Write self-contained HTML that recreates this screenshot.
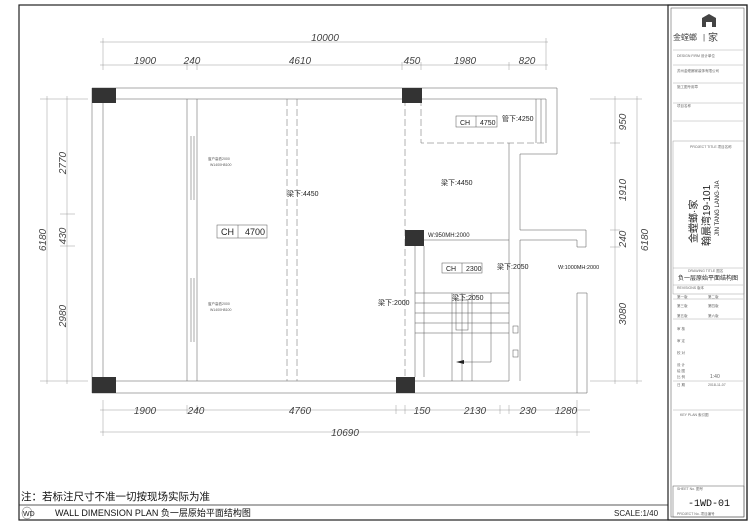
<!DOCTYPE html>
<html><head><meta charset="utf-8"><style>
html,body{margin:0;padding:0;background:#fff;}
svg{display:block;font-family:"Liberation Sans","Noto Sans CJK SC",sans-serif;}
.d{font-size:10px;font-style:italic;fill:#444;text-anchor:middle;}
.s{font-size:7px;fill:#222;}
.t{font-size:3.5px;fill:#555;}
</style></head><body>
<svg width="750" height="525" viewBox="0 0 750 525">
<rect x="19" y="5" width="728" height="515" fill="none" stroke="#222" stroke-width="1.2"/>
<line x1="19" y1="505" x2="668" y2="505" stroke="#222" stroke-width="0.8"/>
<rect x="668" y="5" width="79" height="515" fill="none" stroke="#222" stroke-width="1.2"/>
<rect x="671" y="8" width="73" height="509" fill="none" stroke="#444" stroke-width="0.5"/>
<g stroke="#555" stroke-width="0.5" fill="none">
<polyline points="92,88 557,88 557,154 520,154 520,230 586,230 586,247 577,247 577,240 520,240"/>
<polyline points="103,99 546,99 546,143"/>
<line x1="509" y1="143" x2="509" y2="240"/>
<line x1="92" y1="88" x2="92" y2="393"/>
<line x1="103" y1="99" x2="103" y2="381"/>
<line x1="92" y1="393" x2="587" y2="393"/>
<line x1="103" y1="381" x2="396" y2="381"/>
<line x1="415" y1="381" x2="509" y2="381"/>
<line x1="187" y1="99" x2="187" y2="381"/>
<line x1="197" y1="99" x2="197" y2="381"/>
<line x1="577" y1="293" x2="587" y2="293"/>
<line x1="577" y1="293" x2="577" y2="393"/>
<line x1="587" y1="293" x2="587" y2="393"/>
<line x1="509" y1="240" x2="509" y2="381"/>
<line x1="520" y1="240" x2="520" y2="381"/>
<line x1="415" y1="246" x2="415" y2="377"/>
<line x1="424" y1="246" x2="424" y2="377"/>
<line x1="424" y1="240" x2="509" y2="240"/>
<line x1="191" y1="136" x2="191" y2="200"/><line x1="194" y1="136" x2="194" y2="200"/>
<line x1="191" y1="278" x2="191" y2="342"/><line x1="194" y1="278" x2="194" y2="342"/>
<line x1="415" y1="293" x2="509" y2="293"/>
<line x1="415" y1="303" x2="509" y2="303"/><line x1="415" y1="313" x2="509" y2="313"/>
<line x1="415" y1="323" x2="509" y2="323"/><line x1="415" y1="333" x2="509" y2="333"/>
<line x1="452" y1="293" x2="452" y2="381"/><line x1="472" y1="293" x2="472" y2="381"/>
<line x1="462" y1="293" x2="462" y2="381"/>
<rect x="456" y="300" width="12" height="30"/>
<line x1="491" y1="293" x2="491" y2="362"/><line x1="462" y1="362" x2="491" y2="362"/>
<rect x="513" y="326" width="5" height="7"/><rect x="513" y="350" width="5" height="7"/>
<line x1="536" y1="99" x2="536" y2="143"/><line x1="541" y1="99" x2="541" y2="143"/>
</g>
<g stroke="#666" stroke-width="0.5" fill="none" stroke-dasharray="7,3">
<line x1="287" y1="99" x2="287" y2="381"/><line x1="297" y1="99" x2="297" y2="381"/>
<line x1="405" y1="99" x2="405" y2="381"/>
<polyline points="421,99 421,143 546,143"/>
</g>
<path d="M456,362 l8,-2 v4z" fill="#222"/>
<g fill="#333">
<rect x="92" y="88" width="24" height="15"/><rect x="402" y="88" width="20" height="15"/>
<rect x="405" y="230" width="19" height="16"/>
<rect x="92" y="377" width="24" height="16"/><rect x="396" y="377" width="19" height="16"/>
</g>
<g stroke="#555" stroke-width="0.5" fill="#fff">
<rect x="217" y="225" width="50" height="13"/><line x1="238" y1="225" x2="238" y2="238"/>
<rect x="456" y="116" width="41" height="11"/><line x1="476" y1="116" x2="476" y2="127"/>
<rect x="442" y="263" width="40" height="10"/><line x1="462" y1="263" x2="462" y2="273"/>
</g>
<text x="221" y="235" font-size="9" fill="#222">CH</text><text x="245" y="235" font-size="9" fill="#222">4700</text>
<text x="460" y="125" class="s">CH</text><text x="480" y="125" class="s">4750</text>
<text x="446" y="271" class="s" fill="#555">CH</text><text x="466" y="271" class="s" fill="#777">2300</text>
<text x="287" y="196" class="s">梁下:4450</text>
<text x="441" y="185" class="s">梁下:4450</text>
<text x="502" y="121" class="s">管下:4250</text>
<text x="428" y="237" font-size="6" fill="#222">W:950MH:2000</text>
<text x="497" y="269" class="s">梁下:2050</text>
<text x="558" y="269" font-size="5.5" fill="#222">W:1000MH:2000</text>
<text x="378" y="305" class="s">梁下:2000</text>
<text x="452" y="300" class="s">梁下:2050</text>
<text x="208" y="160" class="t">窗户高低2000</text><text x="210" y="166" class="t">W1400H8100</text>
<text x="208" y="305" class="t">窗户高低2000</text><text x="210" y="311" class="t">W1400H8100</text>
<g stroke="#999" stroke-width="0.5">
<line x1="100" y1="42" x2="548" y2="42"/><line x1="100" y1="65" x2="548" y2="65"/>
<line x1="103" y1="38" x2="103" y2="70"/><line x1="546" y1="38" x2="546" y2="70"/>
<line x1="187" y1="62" x2="187" y2="70"/><line x1="197" y1="62" x2="197" y2="70"/>
<line x1="402" y1="62" x2="402" y2="70"/><line x1="421" y1="62" x2="421" y2="70"/><line x1="509" y1="62" x2="509" y2="70"/>
<line x1="100" y1="410" x2="590" y2="410"/><line x1="100" y1="432" x2="590" y2="432"/>
<line x1="103" y1="400" x2="103" y2="436"/><line x1="577" y1="400" x2="577" y2="436"/>
<line x1="187" y1="405" x2="187" y2="414"/><line x1="197" y1="405" x2="197" y2="414"/>
<line x1="396" y1="405" x2="396" y2="414"/><line x1="405" y1="405" x2="405" y2="414"/>
<line x1="500" y1="405" x2="500" y2="414"/><line x1="509" y1="405" x2="509" y2="414"/>
<line x1="47" y1="96" x2="47" y2="384"/><line x1="67" y1="96" x2="67" y2="384"/>
<line x1="40" y1="99" x2="88" y2="99"/><line x1="40" y1="381" x2="88" y2="381"/>
<line x1="60" y1="214" x2="75" y2="214"/><line x1="60" y1="246" x2="75" y2="246"/>
<line x1="615" y1="96" x2="615" y2="384"/><line x1="637" y1="96" x2="637" y2="384"/>
<line x1="590" y1="99" x2="642" y2="99"/><line x1="590" y1="381" x2="642" y2="381"/>
<line x1="610" y1="143" x2="620" y2="143"/><line x1="610" y1="230" x2="620" y2="230"/><line x1="610" y1="247" x2="620" y2="247"/>
</g>
<text x="325" y="41" class="d">10000</text>
<text x="145" y="64" class="d">1900</text><text x="192" y="64" class="d">240</text>
<text x="300" y="64" class="d">4610</text><text x="412" y="64" class="d">450</text>
<text x="465" y="64" class="d">1980</text><text x="527" y="64" class="d">820</text>
<text x="145" y="414" class="d">1900</text><text x="196" y="414" class="d">240</text>
<text x="300" y="414" class="d">4760</text><text x="422" y="414" class="d">150</text>
<text x="475" y="414" class="d">2130</text><text x="528" y="414" class="d">230</text><text x="566" y="414" class="d">1280</text>
<text x="345" y="436" class="d">10690</text>
<g class="d">
<text transform="translate(46,240) rotate(-90)">6180</text>
<text transform="translate(66,163) rotate(-90)">2770</text>
<text transform="translate(66,236) rotate(-90)">430</text>
<text transform="translate(66,316) rotate(-90)">2980</text>
<text transform="translate(626,122) rotate(-90)">950</text>
<text transform="translate(626,190) rotate(-90)">1910</text>
<text transform="translate(626,239) rotate(-90)">240</text>
<text transform="translate(626,314) rotate(-90)">3080</text>
<text transform="translate(648,240) rotate(-90)">6180</text>
</g>
<text x="21" y="500" font-size="10.5" fill="#111">注：若标注尺寸不准一切按现场实际为准</text>
<ellipse cx="27" cy="513" rx="5" ry="6" fill="none" stroke="#555" stroke-width="0.5"/>
<text x="23" y="516" font-size="7" fill="#222">WD</text>
<text x="55" y="516" font-size="9" fill="#111">WALL DIMENSION PLAN 负一层原始平面结构图</text>
<text x="614" y="516" font-size="8" fill="#222">SCALE:1/40</text>
<path d="M702,18 l7,-4 7,4 v9 h-4 v-5 h-6 v5 h-4z" fill="#444"/>
<text x="673" y="40" font-size="8" fill="#444">金螳螂</text><text x="703" y="40" font-size="8" fill="#444">|</text><text x="708" y="41" font-size="10" fill="#444">家</text>
<g stroke="#999" stroke-width="0.4">
<line x1="673" y1="50" x2="743" y2="50"/><line x1="673" y1="65" x2="743" y2="65"/><line x1="673" y1="83" x2="743" y2="83"/>
<line x1="673" y1="103" x2="743" y2="103"/><line x1="673" y1="121" x2="743" y2="121"/>
<line x1="673" y1="268" x2="743" y2="268"/><line x1="673" y1="285" x2="743" y2="285"/>
<line x1="673" y1="299" x2="743" y2="299"/><line x1="673" y1="319" x2="743" y2="319"/>
<line x1="673" y1="381" x2="743" y2="381"/><line x1="673" y1="410" x2="743" y2="410"/>
</g>
<rect x="673" y="141" width="71" height="153" fill="none" stroke="#888" stroke-width="0.4"/>
<text x="677" y="57" font-size="3.5" fill="#666">DESIGN FIRM 设计单位</text>
<text x="677" y="72" font-size="3.5" fill="#666">苏州金螳螂家装饰有限公司</text>
<text x="677" y="88" font-size="3.5" fill="#666">施工图专用章</text>
<text x="677" y="107" font-size="3.5" fill="#666">项目名称</text>
<text x="690" y="148" font-size="3.5" fill="#666">PROJECT TITLE 项目名称</text>
<text transform="translate(697,243) rotate(-90)" font-size="10" fill="#222">金螳螂·家</text>
<text transform="translate(710,246) rotate(-90)" font-size="10" fill="#222">翰晨湾19-101</text>
<text transform="translate(719,236) rotate(-90)" font-size="6" fill="#222">JIN TANG LANG·JIA</text>
<text x="688" y="272" font-size="3.5" fill="#666">DRAWING TITLE 图名</text>
<text x="678" y="280" font-size="6" fill="#222">负一层原始平面结构图</text>
<text x="677" y="289" font-size="3.5" fill="#666">REVISIONS 版本</text>
<g font-size="3.5" fill="#666">
<text x="677" y="298">第一版</text><text x="708" y="298">第二版</text>
<text x="677" y="307">第三版</text><text x="708" y="307">第四版</text>
<text x="677" y="317">第五版</text><text x="708" y="317">第六版</text>
<text x="677" y="330">审 核</text><text x="677" y="342">审 定</text><text x="677" y="354">校 对</text>
<text x="677" y="366">设 计</text><text x="677" y="372">绘 图</text>
<text x="677" y="378">比 例</text><text x="710" y="378" font-size="5">1:40</text>
<text x="677" y="386">日 期</text><text x="708" y="386">2018-11-07</text>
<text x="680" y="416">KEY PLAN 索引图</text>
<text x="677" y="490">SHEET No. 图号</text>
<text x="677" y="515">PROJECT No. 项目编号</text>
</g>
<rect x="673" y="486" width="71" height="31" fill="none" stroke="#555" stroke-width="0.5"/>
<text x="688" y="506" font-size="10" fill="#111" font-family="Liberation Mono">-1WD-01</text>
</svg>
</body></html>
